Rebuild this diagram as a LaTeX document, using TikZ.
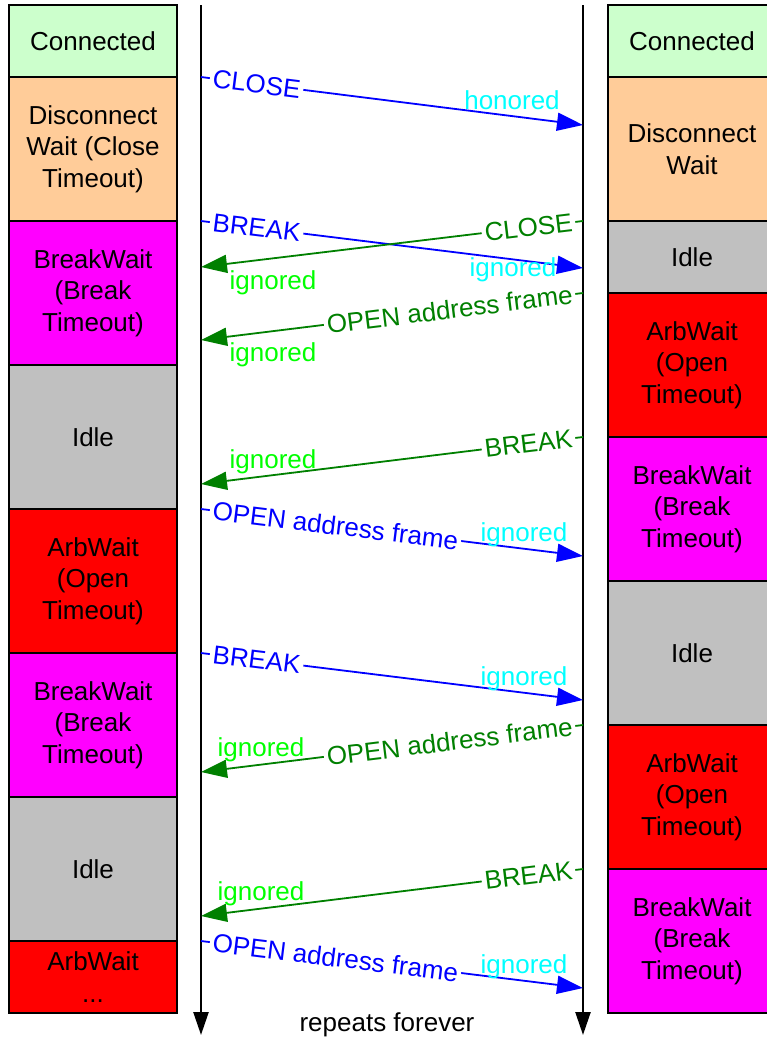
\documentclass[tikz,border=0pt]{standalone}
\usepackage{fontspec}
\setmainfont{Liberation Sans}
\usetikzlibrary{arrows.meta}
\definecolor{stConnected}{HTML}{CCFFCC}
\definecolor{stDisc}{HTML}{FFCC99}
\definecolor{stBreak}{HTML}{FF00FF}
\definecolor{stIdle}{HTML}{C0C0C0}
\definecolor{stArb}{HTML}{FF0000}
\definecolor{msgBlue}{HTML}{0000FF}
\definecolor{msgGreen}{HTML}{008000}
\definecolor{noteCyan}{HTML}{00FFFF}
\definecolor{noteLime}{HTML}{00FF00}
\begin{document}
\begin{tikzpicture}[x=1pt,y=-1pt,
  every node/.style={font=\fontsize{26}{31.5}\selectfont},
  state/.style={draw=black, line width=1.8pt, align=center, outer sep=0pt,
    inner sep=0pt, minimum width=168pt, anchor=north west},
  short/.style={state, minimum height=72pt},
  tall/.style={state, minimum height=144pt},
  life/.style={line width=2.4pt, -{Triangle[length=23pt,width=15pt]}},
  msg/.style={line width=1.8pt, -{Triangle[length=26pt,width=18pt]}},
  tx/.style={msg, draw=msgBlue},
  rx/.style={msg, draw=msgGreen, fill=msgGreen},
  txlbl/.style={sloped, anchor=west, pos=0.021, fill=white, inner xsep=3pt,
    inner ysep=0pt, text=msgBlue},
  rxlbl/.style={sloped, anchor=east, pos=0.018, fill=white, inner xsep=3pt,
    inner ysep=0pt, text=msgGreen},
  txnote/.style={anchor=base, text=noteCyan, inner sep=0pt},
  rxnote/.style={anchor=base, text=noteLime, inner sep=0pt},
]
\useasboundingbox (0,0) rectangle (767,1042);
\clip (0,0) rectangle (767,1042);

% left state column
\node[short, fill=stConnected] (L1) at (9,5) {Connected};
\node[tall, fill=stDisc] (L2) at (L1.south west) {Disconnect\\Wait (Close\\Timeout)};
\node[tall, fill=stBreak] (L3) at (L2.south west) {BreakWait\\(Break\\Timeout)};
\node[tall, fill=stIdle] (L4) at (L3.south west) {Idle};
\node[tall, fill=stArb] (L5) at (L4.south west) {ArbWait\\(Open\\Timeout)};
\node[tall, fill=stBreak] (L6) at (L5.south west) {BreakWait\\(Break\\Timeout)};
\node[tall, fill=stIdle] (L7) at (L6.south west) {Idle};
\node[short, fill=stArb] (L8) at (L7.south west) {ArbWait\\...};

% right state column
\node[short, fill=stConnected] (R1) at (608,5) {Connected};
\node[tall, fill=stDisc] (R2) at (R1.south west) {Disconnect\\Wait};
\node[short, fill=stIdle] (R3) at (R2.south west) {Idle};
\node[tall, fill=stArb] (R4) at (R3.south west) {ArbWait\\(Open\\Timeout)};
\node[tall, fill=stBreak] (R5) at (R4.south west) {BreakWait\\(Break\\Timeout)};
\node[tall, fill=stIdle] (R6) at (R5.south west) {Idle};
\node[tall, fill=stArb] (R7) at (R6.south west) {ArbWait\\(Open\\Timeout)};
\node[tall, fill=stBreak] (R8) at (R7.south west) {BreakWait\\(Break\\Timeout)};

% lifelines
\coordinate (Ltop) at (201,5);
\coordinate (Lbot) at (201,1035);
\coordinate (Rtop) at (583,5);
\coordinate (Rbot) at (583,1035);
\draw[life] (Ltop) -- (Lbot);
\draw[life] (Rtop) -- (Rbot);
\node[anchor=base, inner sep=0pt] (forever) at (387,1031) {repeats forever};

% message end points on the lifelines
\coordinate (m1a) at (201,77);  \coordinate (m1b) at (583,125);
\coordinate (m2a) at (201,221); \coordinate (m2b) at (583,268);
\coordinate (m3a) at (583,221); \coordinate (m3b) at (201,267);
\coordinate (m4a) at (583,293); \coordinate (m4b) at (201,340);
\coordinate (m5a) at (583,437); \coordinate (m5b) at (201,484);
\coordinate (m6a) at (201,509); \coordinate (m6b) at (583,556);
\coordinate (m7a) at (201,653); \coordinate (m7b) at (583,700);
\coordinate (m8a) at (583,725); \coordinate (m8b) at (201,772);
\coordinate (m9a) at (583,869); \coordinate (m9b) at (201,916);
\coordinate (m10a) at (201,941); \coordinate (m10b) at (583,988);

% messages sent from the left side
\draw[tx] (m1a) -- node[txlbl] {CLOSE} (m1b);
\draw[tx] (m2a) -- node[txlbl] {BREAK} (m2b);
\draw[tx] (m6a) -- node[txlbl] {OPEN address frame} (m6b);
\draw[tx] (m7a) -- node[txlbl] {BREAK} (m7b);
\draw[tx] (m10a) -- node[txlbl] {OPEN address frame} (m10b);

% messages sent from the right side
\draw[rx] (m3a) -- node[rxlbl] {CLOSE} (m3b);
\draw[rx] (m4a) -- node[rxlbl] {OPEN address frame} (m4b);
\draw[rx] (m5a) -- node[rxlbl] {BREAK} (m5b);
\draw[rx] (m8a) -- node[rxlbl] {OPEN address frame} (m8b);
\draw[rx] (m9a) -- node[rxlbl] {BREAK} (m9b);

% receiver reactions
\node[txnote] (n1) at (512,109) {honored};
\node[txnote] (n2) at (513,276) {ignored};
\node[rxnote] (n3) at (273,289) {ignored};
\node[rxnote] (n4) at (273,361) {ignored};
\node[rxnote] (n5) at (273,468) {ignored};
\node[txnote] (n6) at (524,541) {ignored};
\node[txnote] (n7) at (524,685) {ignored};
\node[rxnote] (n8) at (261,756) {ignored};
\node[rxnote] (n9) at (261,900) {ignored};
\node[txnote] (n10) at (524,973) {ignored};
\end{tikzpicture}
\end{document}
